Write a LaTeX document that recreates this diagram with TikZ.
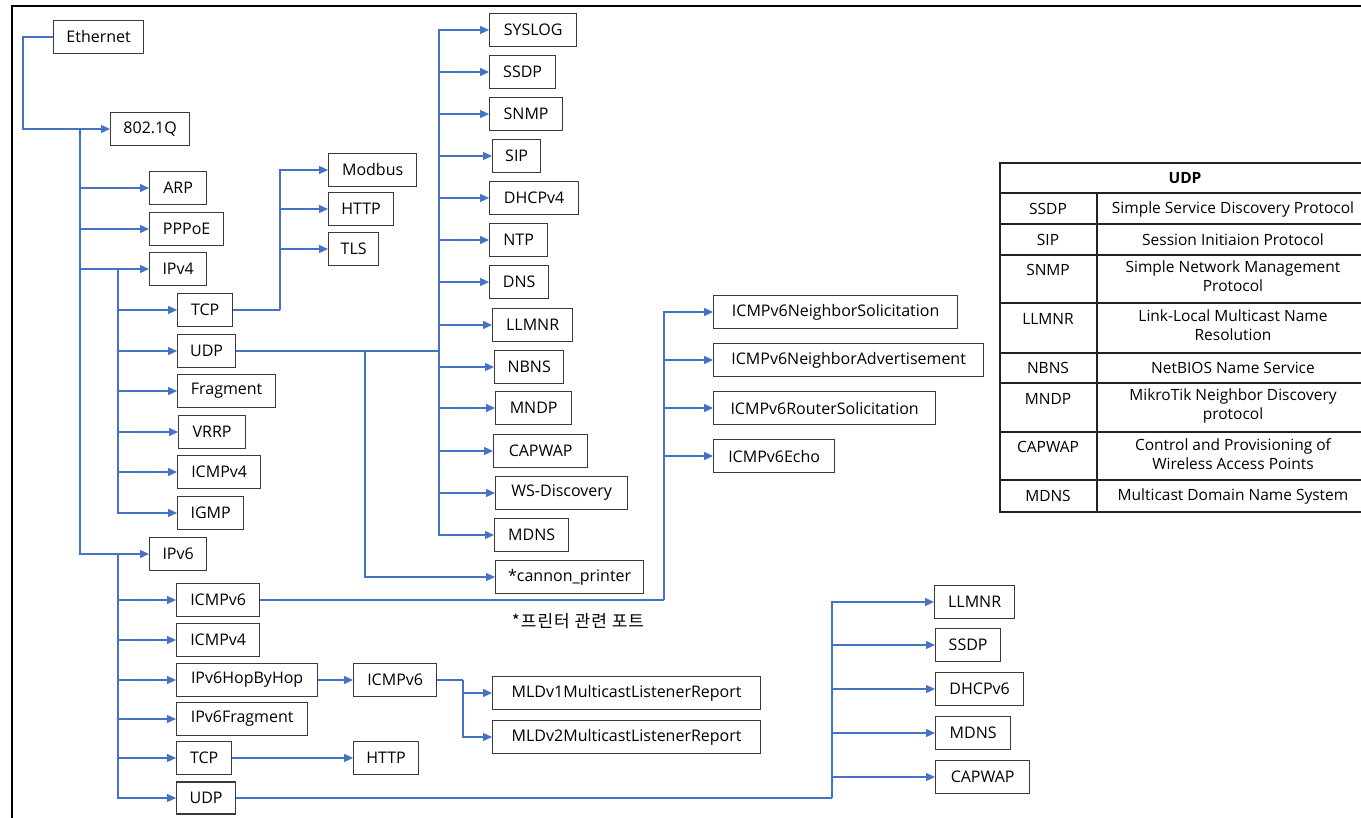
\documentclass[tikz,border=0pt]{standalone}
\usepackage{fontspec}
\setmainfont{Open Sans}
\newfontfamily\krfont[LetterSpace=6]{Noto Sans CJK KR}
\usetikzlibrary{arrows.meta}
\definecolor{lnblue}{HTML}{4472C4}
\definecolor{boxgray}{HTML}{3A3A3A}
\definecolor{tblline}{HTML}{222222}
\tikzset{
  pbox/.style={draw=boxgray, line width=1.3pt, minimum height=33pt, inner sep=0pt,
    anchor=west, fill=white, font=\fontsize{16}{19}\selectfont},
  conn/.style={draw=lnblue, line width=1.2pt, -{Triangle[length=9pt,width=8pt]}},
  lnline/.style={draw=lnblue, line width=1.3pt},
  tline/.style={draw=tblline, line width=1.5pt},
  tcell/.style={inner sep=0pt, align=center, font=\fontsize{15.5}{19}\selectfont},
}
\begin{document}
\begin{tikzpicture}[x=1pt,y=-1pt]
\useasboundingbox (0,0) rectangle (1361,818);
\clip (0,0) rectangle (1361,818);
\fill[white] (0,0) rectangle (1361,818);
% frame
\draw[line width=1.8pt, black] (12,830) -- (12,6) -- (1370,6);

% boxes
\node[pbox,minimum width=90pt] (eth) at (53,37) {Ethernet};
\node[pbox,minimum width=79pt] (q) at (110,129) {802.1Q};
\node[pbox,minimum width=57pt] (arp) at (149,188) {ARP};
\node[pbox,minimum width=74pt] (pppoe) at (149,229) {PPPoE};
\node[pbox,minimum width=57pt] (ipv4) at (149,269) {IPv4};
\node[pbox,minimum width=88pt] (modbus) at (328,170) {Modbus};
\node[pbox,minimum width=65pt] (http4) at (328,209) {HTTP};
\node[pbox,minimum width=50pt] (tls) at (328,249) {TLS};
\node[pbox,minimum width=55pt] (tcp4) at (177,310) {TCP};
\node[pbox,minimum width=58pt] (udp4) at (177,351) {UDP};
\node[pbox,minimum width=98pt] (frag) at (177,391) {Fragment};
\node[pbox,minimum width=67pt] (vrrp) at (178,432) {VRRP};
\node[pbox,minimum width=83pt] (icmp4) at (177,472) {ICMPv4};
\node[pbox,minimum width=66pt] (igmp) at (177,513) {IGMP};
\node[pbox,minimum width=57pt] (ipv6) at (149,554) {IPv6};
\node[pbox,minimum width=83pt] (icmp6) at (176,600) {ICMPv6};
\node[pbox,minimum width=83pt] (icmp4b) at (176,640) {ICMPv4};
\node[pbox,minimum width=141pt] (hop) at (176,680) {IPv6HopByHop};
\node[pbox,minimum width=83pt] (icmp6b) at (353,680) {ICMPv6};
\node[pbox,minimum width=131pt] (frag6) at (176,719) {IPv6Fragment};
\node[pbox,minimum width=55pt] (tcp6) at (176,758) {TCP};
\node[pbox,minimum width=65pt] (http6) at (353,758) {HTTP};
\node[pbox,minimum width=59pt,minimum height=32pt] (udp6) at (176,798) {UDP};

\node[pbox,minimum width=87pt] (syslog) at (489,30) {SYSLOG};
\node[pbox,minimum width=66pt] (ssdp) at (489,72) {SSDP};
\node[pbox,minimum width=73pt] (snmp) at (489,114) {SNMP};
\node[pbox,minimum width=48pt] (sip) at (492,156) {SIP};
\node[pbox,minimum width=89pt] (dhcp4) at (489,198) {DHCPv4};
\node[pbox,minimum width=58pt] (ntp) at (489,240) {NTP};
\node[pbox,minimum width=59pt] (dns) at (489,282) {DNS};
\node[pbox,minimum width=80pt] (llmnr) at (492,325) {LLMNR};
\node[pbox,minimum width=69pt] (nbns) at (494,367) {NBNS};
\node[pbox,minimum width=76pt] (mndp) at (495,408) {MNDP};
\node[pbox,minimum width=94pt] (capwap) at (493,451) {CAPWAP};
\node[pbox,minimum width=132pt] (wsd) at (495,493) {WS-Discovery};
\node[pbox,minimum width=74pt] (mdns) at (494,535) {MDNS};
\node[pbox,minimum width=148pt] (cannon) at (495,577) {*cannon\_printer};

\node[pbox,minimum width=244pt] (ns) at (713,312) {ICMPv6NeighborSolicitation};
\node[pbox,minimum width=270pt] (na) at (713,360) {ICMPv6NeighborAdvertisement};
\node[pbox,minimum width=222pt] (rs) at (713,408) {ICMPv6RouterSolicitation};
\node[pbox,minimum width=121pt] (echo) at (713,456) {ICMPv6Echo};

\node[pbox,minimum width=268pt] (mld1) at (492,693) {MLDv1MulticastListenerReport};
\node[pbox,minimum width=268pt] (mld2) at (492,737) {MLDv2MulticastListenerReport};

\node[pbox,minimum width=80pt] (llmnr6) at (934,602) {LLMNR};
\node[pbox,minimum width=65pt] (ssdp6) at (935,645) {SSDP};
\node[pbox,minimum width=88pt] (dhcp6) at (935,689) {DHCPv6};
\node[pbox,minimum width=75pt] (mdns6) at (935,733) {MDNS};
\node[pbox,minimum width=94pt] (capwap6) at (935,777) {CAPWAP};

\node[font=\krfont\fontsize{17}{20}\selectfont, inner sep=0pt] (note) at (578,621) {*프린터 관련 포트};

% connectors
\draw[conn] (eth.west) -- ++(-30,0) |- (q.west);
\coordinate (qj) at (80,129);
\foreach \c in {arp,pppoe,ipv4,ipv6} \draw[conn] (qj) |- (\c.west);
\coordinate (v4j) at (118,269);
\foreach \c in {tcp4,udp4,frag,vrrp,icmp4,igmp} \draw[conn] (v4j) |- (\c.west);
\coordinate (v6j) at (118,554);
\foreach \c in {icmp6,icmp4b,hop,frag6,tcp6,udp6} \draw[conn] (v6j) |- (\c.west);

\coordinate (tcpj) at (280,310);
\draw[lnline] (tcp4.east) -- (tcpj);
\foreach \c in {modbus,http4,tls} \draw[conn] (tcpj) |- (\c.west);

\coordinate (udpj) at (439,351);
\draw[lnline,line width=1.8pt] (udp4.east) -- (udpj);
\draw[lnline,line width=1.8pt] (udpj) -- (439,30);
\foreach \c in {syslog,ssdp,snmp,sip,dhcp4,ntp,dns,llmnr,nbns,mndp,capwap,wsd,mdns} \draw[conn] (udpj) |- (\c.west);
\coordinate (udpk) at (365,351);
\draw[conn] (udpk) |- (cannon.west);

\coordinate (i6j) at (664,600);
\draw[lnline,line width=1.6pt] (icmp6.east) -- (i6j);
\foreach \c in {ns,na,rs,echo} \draw[conn] (i6j) |- (\c.west);

\draw[conn] (hop.east) -- (icmp6b.west);
\coordinate (mj) at (463,680);
\draw[lnline] (icmp6b.east) -- (mj);
\foreach \c in {mld1,mld2} \draw[conn] (mj) |- (\c.west);

\draw[conn] (tcp6.east) -- (http6.west);

\coordinate (u6j) at (832,798);
\draw[lnline,line width=1.8pt] (udp6.east) -- (u6j);
\foreach \c in {llmnr6,ssdp6,dhcp6,mdns6,capwap6} \draw[conn] (u6j) |- (\c.west);

% table
\draw[tline] (1000,163) rectangle (1380,512);
\foreach \yy in {193,224,255,303,353,383,432,480} \draw[tline] (1000,\yy) -- (1380,\yy);
\draw[tline] (1097,193) -- (1097,512);
\node[tcell,font=\fontsize{15.5}{19}\selectfont\bfseries] (th) at (1185,178) {UDP};
\node[tcell] (a1) at (1048,209) {SSDP};
\node[tcell] (b1) at (1233,209) {Simple Service Discovery Protocol};
\node[tcell] (a2) at (1048,240) {SIP};
\node[tcell] (b2) at (1233,240) {Session Initiaion Protocol};
\node[tcell] (a3) at (1048,270) {SNMP};
\node[tcell,anchor=north] (b3) at (1233,261) {Simple Network Management\\Protocol};
\node[tcell] (a4) at (1048,319) {LLMNR};
\node[tcell,anchor=north] (b4) at (1233,310) {Link-Local Multicast Name\\Resolution};
\node[tcell] (a5) at (1048,368) {NBNS};
\node[tcell] (b5) at (1233,368) {NetBIOS Name Service};
\node[tcell] (a6) at (1048,399) {MNDP};
\node[tcell,anchor=north] (b6) at (1233,389) {MikroTik Neighbor Discovery\\protocol};
\node[tcell] (a7) at (1048,447) {CAPWAP};
\node[tcell,anchor=north] (b7) at (1233,438) {Control and Provisioning of\\Wireless Access Points};
\node[tcell] (a8) at (1048,496) {MDNS};
\node[tcell] (b8) at (1233,496) {Multicast Domain Name System};
\end{tikzpicture}
\end{document}
